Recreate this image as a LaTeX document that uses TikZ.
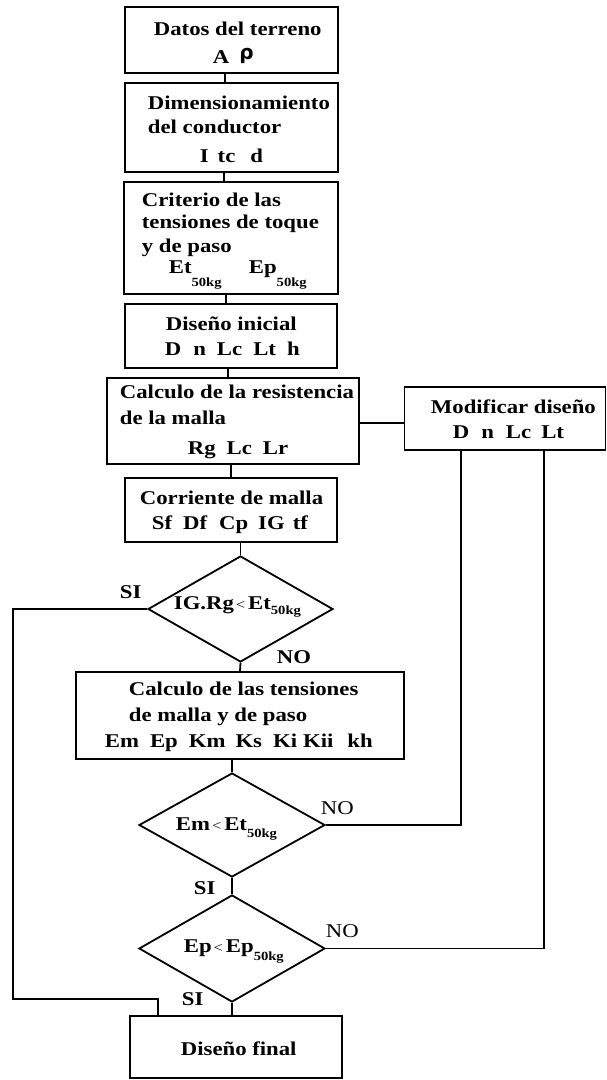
\documentclass[tikz,border=0pt]{standalone}
\usepackage{fontspec}
\setmainfont{Liberation Serif}[FakeStretch=1.167]
\newfontfamily\symf{DejaVu Sans}
\usetikzlibrary{shapes.geometric}
\newcommand\sbk[2]{\raisebox{-#1pt}{\fontsize{12.5}{12.5}\selectfont\bfseries #2}}
\newcommand\ltsym{{\fontsize{14}{14}\selectfont\mdseries\hspace{2pt}<\hspace{3pt}}}
\begin{document}
\begin{tikzpicture}[x=1pt,y=-1pt,line width=1.8pt,
  box/.style={draw,rectangle,inner sep=0},
  dia/.style={draw,diamond,inner sep=0},
  txt/.style={inner sep=0,anchor=base west,font=\fontsize{19.5}{23}\selectfont\bfseries},
  labr/.style={inner sep=0,anchor=base west,font=\fontsize{19.5}{23}\selectfont}]
\useasboundingbox[fill=white] (0,0) rectangle (607,1080);
% boxes
\node[box,minimum width=213,minimum height=66] (b1) at (231.5,40) {};
\node[box,minimum width=213,minimum height=89] (b2) at (231.5,127.5) {};
\node[box,minimum width=214,minimum height=112] (b3) at (231,238) {};
\node[box,minimum width=212,minimum height=64] (b4) at (231,336) {};
\node[box,minimum width=252,minimum height=86] (b5) at (233,421) {};
\node[box,minimum width=201,minimum height=63] (mod) at (505,418.5) {};
\node[box,minimum width=212,minimum height=64] (b6) at (231,510) {};
\node[dia,minimum width=185,minimum height=106] (d1) at (240.5,609) {};
\node[box,minimum width=328,minimum height=87] (b7) at (240,715.5) {};
\node[dia,minimum width=186,minimum height=104] (d2) at (232,825) {};
\node[dia,minimum width=186,minimum height=107] (d3) at (232,948.5) {};
\node[box,minimum width=212,minimum height=62] (fin) at (236,1047) {};
% texts
\node[txt] (t1a) at (153,35) {Datos del terreno};
\node[txt] (t1b) at (212,63) {A\hspace{10pt}\raisebox{4pt}{\fontsize{20}{20}\selectfont\symf\bfseries ρ}};
\node[txt] (t2a) at (147,109) {Dimensionamiento};
\node[txt] (t2b) at (147,133) {del conductor};
\node[txt] (t2c) at (199,162) {I\hspace{9pt}tc\hspace{15pt}d};
\node[txt] (t3a) at (141,206) {Criterio de las};
\node[txt] (t3b) at (141,228) {tensiones de toque};
\node[txt] (t3c) at (141,252) {y de paso};
\node[txt] (t3d) at (168,273) {Et\sbk{13}{50kg}};
\node[txt] (t3e) at (248,273) {Ep\sbk{13}{50kg}};
\node[txt] (t4a) at (165,330) {Diseño inicial};
\node[txt] (t4b) at (164,355) {D\hspace{12pt}n\hspace{11pt}Lc\hspace{11pt}Lt\hspace{11pt}h};
\node[txt] (t5a) at (119,398) {Calculo de la resistencia};
\node[txt] (t5b) at (119,424) {de la malla};
\node[txt] (t5c) at (187,454) {Rg\hspace{11pt}Lc\hspace{11pt}Lr};
\node[txt] (tma) at (430,413) {Modificar diseño};
\node[txt] (tmb) at (452,438) {D\hspace{12pt}n\hspace{12pt}Lc\hspace{10pt}Lt};
\node[txt] (t6a) at (139,504) {Corriente de malla};
\node[txt] (t6b) at (151,529) {Sf\hspace{11pt}Df\hspace{12pt}Cp\hspace{10pt}IG\hspace{8pt}tf};
\node[txt] (td1) at (173,609) {IG.Rg\ltsym Et\sbk{5}{50kg}};
\node[txt] (si1) at (119,598) {SI};
\node[txt] (no1) at (276,663) {NO};
\node[txt] (t7a) at (128,695) {Calculo de las tensiones};
\node[txt] (t7b) at (128,721) {de malla y de paso};
\node[txt] (t7c) at (104,747) {Em\hspace{11pt}Ep\hspace{11pt}Km\hspace{10pt}Ks\hspace{11pt}Ki\hspace{6pt}Kii\hspace{14pt}kh};
\node[txt] (td2) at (175,830) {Em\ltsym Et\sbk{7}{50kg}};
\node[labr] (no2) at (320,814) {NO};
\node[txt] (si2) at (193,894) {SI};
\node[txt] (td3) at (183,952) {Ep\ltsym Ep\sbk{8}{50kg}};
\node[labr] (no3) at (325,937) {NO};
\node[txt] (si3) at (181,1005) {SI};
\node[txt] (tfin) at (180,1055) {Diseño final};
% connectors
\draw ([xshift=-6.5]b1.south) -- ([xshift=-6.5]b2.north);
\draw ([xshift=-7.5]b2.south) -- ([xshift=-7]b3.north);
\draw ([xshift=-5]b3.south) -- ([xshift=-5]b4.north);
\draw ([xshift=-3]b4.south) -- ([xshift=-5]b5.north);
\draw ([xshift=-2]b5.south) -- (b6.north);
\draw ([xshift=9.5]b6.south) -- (d1.north);
\draw (d1.south) -- (b7.north);
\draw ([xshift=-8]b7.south) -- (d2.north);
\draw (d2.south) -- (d3.north);
\draw (d3.south) -- ([xshift=-4]fin.north);
\draw ([yshift=-2]b5.east) -- ([yshift=-4.5]mod.west);
\coordinate (L1) at (13,999);
\draw (d1.west) -| (L1) -| ([xshift=-78]fin.north);
\draw (d2.east) -| ([xshift=-44]mod.south);
\draw (d3.east) -| ([xshift=39]mod.south);
\end{tikzpicture}
\end{document}
